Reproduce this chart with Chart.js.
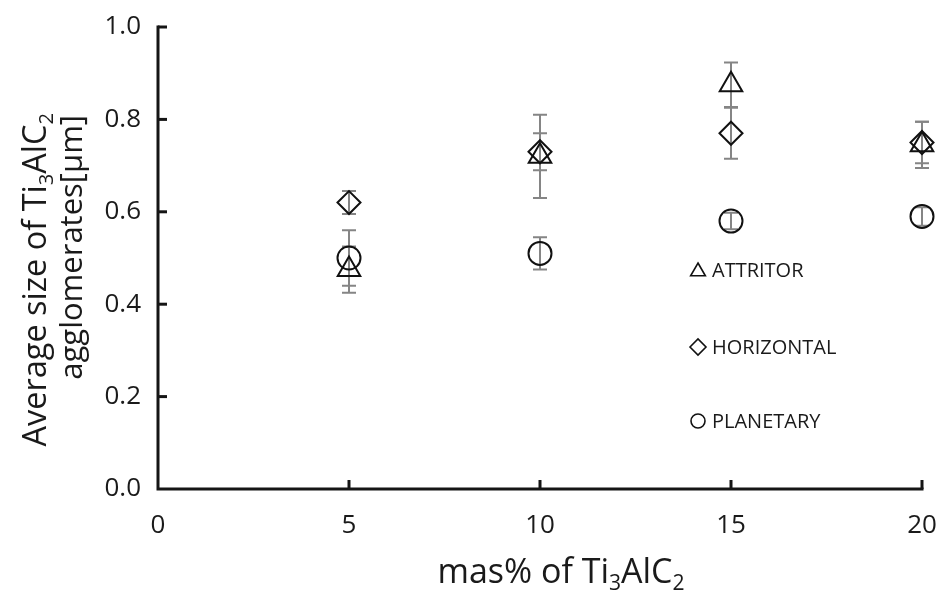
<!DOCTYPE html>
<html>
<head>
<meta charset="utf-8">
<script src="https://cdn.jsdelivr.net/npm/chart.js@4.4.1/dist/chart.umd.min.js"></script>
<style>
  html, body { margin: 0; padding: 0; background: #ffffff; }
  #wrap { width: 943px; height: 592px; position: relative; }
</style>
</head>
<body>
<div id="wrap"><canvas id="c" width="943" height="592"></canvas></div>
<script>
// ---- data ----
const massPct = [5, 10, 15, 20];
const seriesNames = ["ATTRITOR", "HORIZONTAL", "PLANETARY"];
const attritor = [0.475, 0.72, 0.875, 0.745];
const attritorErr = [0.05, 0.09, 0.048, 0.05];
const horizontal = [0.62, 0.73, 0.77, 0.75];
const horizontalErr = [0.025, 0.04, 0.055, 0.045];
const planetary = [0.50, 0.51, 0.58, 0.59];
const planetaryErr = [0.06, 0.035, 0.018, 0.02];
const xTicks = [0, 5, 10, 15, 20];
const yTicks = [0.0, 0.2, 0.4, 0.6, 0.8, 1.0];
const xTitle = [["mas% of Ti"], ["3", "sub"], ["AlC"], ["2", "sub"]];
const yTitle1 = [["Average size of Ti"], ["3", "sub"], ["AlC"], ["2", "sub"]];
const yTitle2 = [["agglomerates[μm]"]];

const FONT = "'Open Sans', 'DejaVu Sans', sans-serif";

function pts(vals) { return massPct.map((x, i) => ({ x: x, y: vals[i] })); }

const datasets = [
  { label: seriesNames[0], data: pts(attritor), err: attritorErr, pointStyle: 'triangle', pointRadius: 13, legendRadius: 8.5 },
  { label: seriesNames[1], data: pts(horizontal), err: horizontalErr, pointStyle: 'rectRot', pointRadius: 11.5, legendRadius: 8 },
  { label: seriesNames[2], data: pts(planetary), err: planetaryErr, pointStyle: 'circle', pointRadius: 11.5, legendRadius: 7 }
].map(d => Object.assign(d, {
  showLine: false,
  clip: false,
  borderColor: '#111',
  backgroundColor: 'rgba(0,0,0,0)',
  pointBorderWidth: 2,
  pointHoverRadius: d.pointRadius,
  pointBackgroundColor: 'rgba(0,0,0,0)',
  pointBorderColor: '#111'
}));

function drawRich(ctx, parts, size, x, y, align) {
  const subSize = size * 0.62;
  let total = 0;
  const widths = parts.map(p => {
    ctx.font = (p[1] === 'sub' ? subSize : size) + 'px ' + FONT;
    const w = ctx.measureText(p[0]).width;
    total += w;
    return w;
  });
  let cx = align === 'center' ? x - total / 2 : (align === 'right' ? x - total : x);
  ctx.textAlign = 'left';
  parts.forEach((p, i) => {
    const sub = p[1] === 'sub';
    ctx.font = (sub ? subSize : size) + 'px ' + FONT;
    ctx.fillText(p[0], cx, y + (sub ? size * 0.22 : 0));
    cx += widths[i];
  });
}

const customPlugin = {
  id: 'custom',
  beforeDatasetsDraw(chart) {
    const ctx = chart.ctx;
    const xs = chart.scales.x, ys = chart.scales.y;
    const area = chart.chartArea;
    ctx.save();
    // error bars
    ctx.strokeStyle = '#858585';
    ctx.lineWidth = 2;
    chart.data.datasets.forEach(ds => {
      ds.data.forEach((p, i) => {
        const e = ds.err[i];
        const px = xs.getPixelForValue(p.x);
        const top = ys.getPixelForValue(p.y + e);
        const bot = ys.getPixelForValue(p.y - e);
        ctx.beginPath();
        ctx.moveTo(px, top); ctx.lineTo(px, bot);
        ctx.moveTo(px - 7, top); ctx.lineTo(px + 7, top);
        ctx.moveTo(px - 7, bot); ctx.lineTo(px + 7, bot);
        ctx.stroke();
      });
    });
    // axes and inner tick marks
    ctx.strokeStyle = '#151515';
    ctx.lineWidth = 3;
    ctx.lineCap = 'square';
    const L = area.left, B = area.bottom;
    const T = ys.getPixelForValue(1.0), R = xs.getPixelForValue(20);
    ctx.beginPath();
    ctx.moveTo(L, T); ctx.lineTo(L, B); ctx.lineTo(R, B);
    ctx.stroke();
    ctx.lineCap = 'butt';
    yTicks.forEach(v => {
      if (v === 0) return;
      const py = ys.getPixelForValue(v);
      ctx.beginPath(); ctx.moveTo(L, py); ctx.lineTo(L + 9, py); ctx.stroke();
    });
    xTicks.forEach(v => {
      if (v === 0) return;
      const px = xs.getPixelForValue(v);
      ctx.beginPath(); ctx.moveTo(px, B); ctx.lineTo(px, B - 9); ctx.stroke();
    });
    ctx.restore();
  },
  afterDraw(chart) {
    const ctx = chart.ctx;
    ctx.save();
    ctx.fillStyle = '#1a1a1a';
    ctx.textBaseline = 'alphabetic';
    // x title
    drawRich(ctx, xTitle, 34, 561, 583, 'center');
    // y title (rotated)
    ctx.save();
    ctx.translate(46, 113);
    ctx.rotate(-Math.PI / 2);
    drawRich(ctx, yTitle1, 32.5, 0, 0, 'right');
    ctx.restore();
    ctx.save();
    ctx.translate(82, 115);
    ctx.rotate(-Math.PI / 2);
    drawRich(ctx, yTitle2, 31, 0, 0, 'right');
    ctx.restore();
    // legend inside plot
    const legendY = [270, 347, 421];
    chart.data.datasets.forEach((ds, i) => {
      ctx.strokeStyle = '#111';
      ctx.fillStyle = 'rgba(0,0,0,0)';
      ctx.lineWidth = 1.6;
      Chart.helpers.drawPoint(ctx, { pointStyle: ds.pointStyle, radius: ds.legendRadius, rotation: 0, borderWidth: 1.6 }, 698, legendY[i] + (ds.pointStyle === 'triangle' ? 1.5 : 0));
      ctx.fillStyle = '#1a1a1a';
      ctx.font = '20px ' + FONT;
      ctx.textBaseline = 'middle';
      ctx.textAlign = 'left';
      ctx.fillText(ds.label, 712, legendY[i] + 1);
    });
    ctx.restore();
  }
};

new Chart(document.getElementById('c'), {
  type: 'scatter',
  data: { datasets: datasets },
  plugins: [customPlugin],
  options: {
    responsive: false,
    animation: false,
    events: [],
    layout: { padding: { top: 27, right: 21, left: 0, bottom: 0 } },
    plugins: { legend: { display: false }, tooltip: { enabled: false } },
    scales: {
      x: {
        type: 'linear', min: 0, max: 20,
        afterFit(s) { s.height = 103; s.paddingLeft = 0; s.paddingRight = 0; },
        afterBuildTicks(s) { s.ticks = xTicks.map(v => ({ value: v })); },
        ticks: { color: '#1a1a1a', font: { family: FONT, size: 26 }, padding: 21, callback: v => String(v), maxRotation: 0 },
        grid: { display: false, drawTicks: false },
        border: { display: false }
      },
      y: {
        type: 'linear', min: 0, max: 1,
        afterFit(s) { s.width = 158; s.paddingTop = 0; s.paddingBottom = 0; },
        afterBuildTicks(s) { s.ticks = yTicks.map(v => ({ value: v })); },
        ticks: { color: '#1a1a1a', font: { family: FONT, size: 26 }, padding: 17, callback: v => Number(v).toFixed(1) },
        grid: { display: false, drawTicks: false },
        border: { display: false }
      }
    }
  }
});
</script>
</body>
</html>
